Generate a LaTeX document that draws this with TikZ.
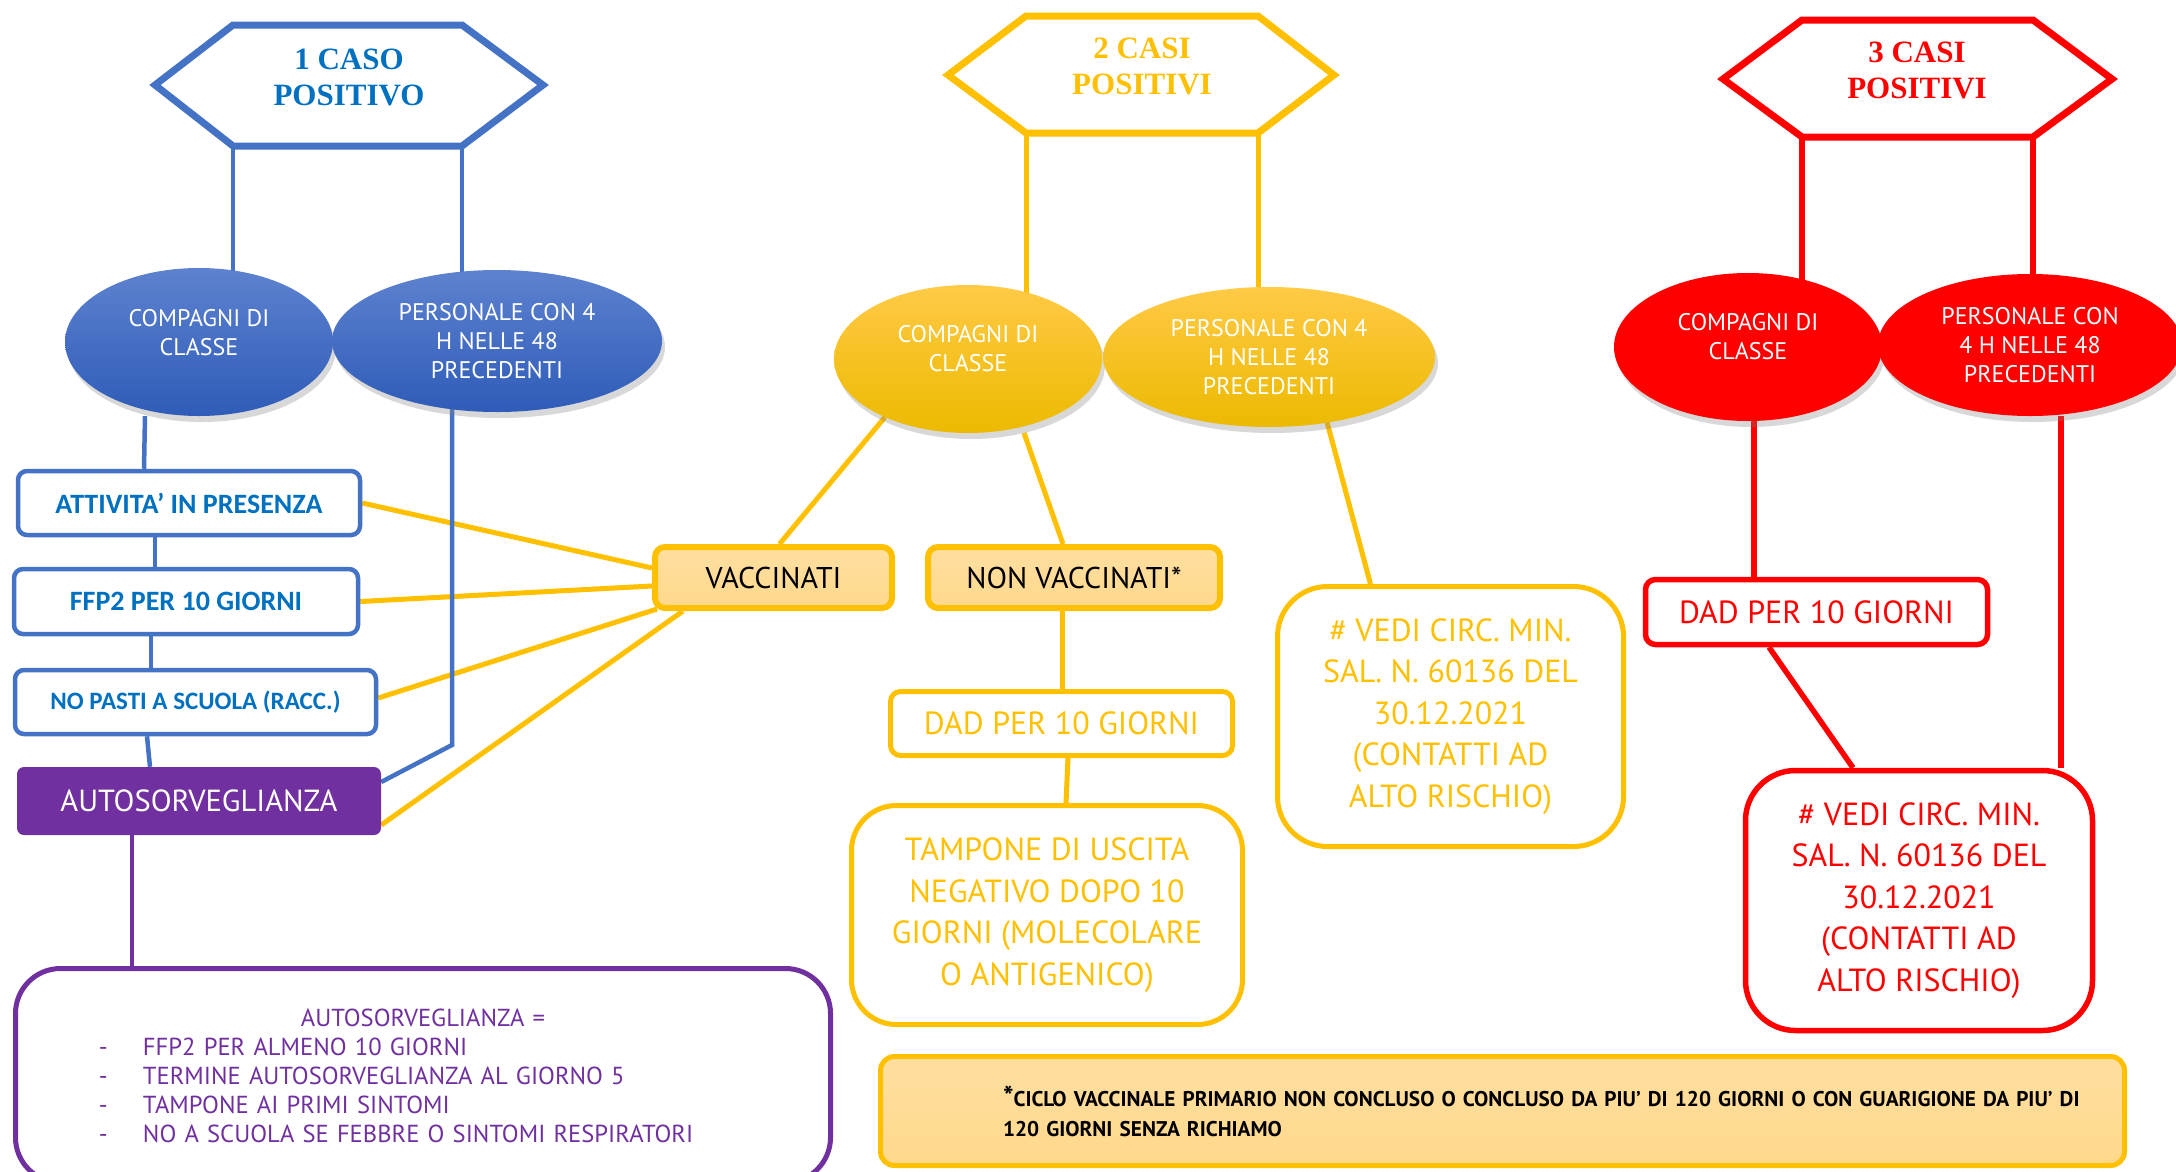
\documentclass[tikz,border=0pt]{standalone}
\usepackage{fontspec}
\setmainfont{PT Sans}
\newfontfamily\calfont{Carlito}
\newfontfamily\hexfont{Liberation Serif}
\usetikzlibrary{shapes.geometric,shadows,backgrounds,calc}
\pgfdeclarelayer{canvasbg}
\pgfsetlayers{canvasbg,background,main}
\definecolor{cblue}{HTML}{4472C4}
\definecolor{ctblue}{HTML}{0070C0}
\definecolor{cyel}{HTML}{FFC000}
\definecolor{cred}{HTML}{FF0000}
\definecolor{cpur}{HTML}{7030A0}
\definecolor{cpeach}{HTML}{FFD88C}
\definecolor{cpeachtop}{HTML}{FFDFA0}
\definecolor{eblt}{RGB}{93,130,207}
\definecolor{eblb}{RGB}{47,92,184}
\definecolor{eyet}{RGB}{255,202,70}
\definecolor{eyeb}{RGB}{236,186,0}
\tikzset{
  hexline/.style={line width=7pt, line join=miter, fill=white},
  hextext/.style={align=center, font=\hexfont\bfseries\fontsize{31}{36}\selectfont, inner sep=0pt},
  ell/.style={ellipse, inner sep=0pt, align=center, text=white, draw=none,
    drop shadow={opacity=0.3, shadow xshift=3pt, shadow yshift=-6pt}},
  elltxt/.style={font=\fontsize{24}{29}\selectfont},
  bluebox/.style={rectangle, draw=cblue, line width=4.5pt, rounded corners=9pt, fill=white,
    text=ctblue, font=\calfont\bfseries\fontsize{28}{30}\selectfont, inner sep=0pt},
  peachbox/.style={rectangle, draw=cyel, line width=6pt, rounded corners=10pt,
    top color=cpeachtop, bottom color=cpeach, text=black,
    font=\fontsize{30}{32}\selectfont, inner sep=0pt},
  yelbox/.style={rectangle, draw=cyel, line width=5pt, fill=white, text=cyel,
    font=\fontsize{32}{41.5}\selectfont, inner sep=0pt, align=center},
  redbox/.style={rectangle, draw=cred, line width=5.5pt, fill=white, text=cred,
    font=\fontsize{32}{41.5}\selectfont, inner sep=0pt, align=center},
  ylin/.style={draw=cyel, line width=5pt},
  blin/.style={draw=cblue, line width=4.5pt},
  rlin/.style={draw=cred, line width=5.5pt},
  plin/.style={draw=cpur, line width=4.5pt},
}
\begin{document}
\begin{tikzpicture}[x=1pt,y=-1pt]
\begin{pgfonlayer}{canvasbg}
\fill[white] (0,0) rectangle (2176,1171);
\end{pgfonlayer}
\useasboundingbox (0,0) rectangle (2176,1171);

% hexagons
\draw[hexline, draw=cblue] (155,85) -- (233,25) -- (462,25) -- (543,85) -- (462,146) -- (233,146) -- cycle;
\node[hextext, text=ctblue] (h1) at (349,77) {1 CASO\\POSITIVO};
\coordinate (h1l) at (233,146);
\coordinate (h1r) at (462,146);

\draw[hexline, draw=cyel] (948,75) -- (1026,16) -- (1258,16) -- (1334,75) -- (1258,133) -- (1026,133) -- cycle;
\node[hextext, text=cyel] (h2) at (1142,66) {2 CASI\\POSITIVI};
\coordinate (h2l) at (1026,133);
\coordinate (h2r) at (1258,133);

\draw[hexline, draw=cred] (1723,79) -- (1802,20) -- (2033,20) -- (2112,79) -- (2033,137) -- (1802,137) -- cycle;
\node[hextext, text=cred] (h3) at (1917,70) {3 CASI\\POSITIVI};
\coordinate (h3l) at (1802,137);
\coordinate (h3r) at (2033,137);

% ellipses
\node[ell, elltxt, top color=eblt, bottom color=eblb, minimum width=268pt, minimum height=148pt, text depth=20pt] (e1) at (199,342) {COMPAGNI DI\\CLASSE};
\node[ell, elltxt, top color=eblt, bottom color=eblb, minimum width=330pt, minimum height=142pt] (e2) at (497,341) {PERSONALE CON 4\\H NELLE 48\\PRECEDENTI};
\node[ell, elltxt, top color=eyet, bottom color=eyeb, minimum width=268pt, minimum height=148pt, text depth=22pt] (e3) at (968,359) {COMPAGNI DI\\CLASSE};
\node[ell, elltxt, top color=eyet, bottom color=eyeb, minimum width=332pt, minimum height=140pt] (e4) at (1269,357) {PERSONALE CON 4\\H NELLE 48\\PRECEDENTI};
\node[ell, elltxt, fill=cred, minimum width=268pt, minimum height=148pt, text depth=22pt] (e5) at (1748,347) {COMPAGNI DI\\CLASSE};
\node[ell, elltxt, fill=cred, minimum width=304pt, minimum height=142pt] (e6) at (2030,345) {PERSONALE CON\\4 H NELLE 48\\PRECEDENTI};

% blue column
\node[bluebox, minimum width=342pt, minimum height=64pt] (att) at (189,503) {ATTIVITA’ IN PRESENZA};
\node[bluebox, minimum width=344pt, minimum height=65pt] (ffp) at (186,601.5) {FFP2 PER 10 GIORNI};
\node[bluebox, minimum width=361pt, minimum height=64pt, font=\calfont\bfseries\fontsize{25}{27}\selectfont] (nop) at (195.5,702) {NO PASTI A SCUOLA (RACC.)};
\node[rectangle, fill=cpur, rounded corners=7pt, text=white, inner sep=0pt, minimum width=364pt, minimum height=68pt, font=\fontsize{30.5}{32}\selectfont] (aut) at (199,801) {AUTOSORVEGLIANZA};

% yellow column
\node[peachbox, minimum width=237pt, minimum height=61pt] (vac) at (773.5,577.5) {VACCINATI};
\node[peachbox, minimum width=292pt, minimum height=61pt] (nv) at (1074,577.5) {NON VACCINATI*};
\node[yelbox, rounded corners=10pt, minimum width=342pt, minimum height=64pt] (dy) at (1061.5,723.5) {DAD PER 10 GIORNI};
\node[yelbox, rounded corners=45pt, minimum width=391pt, minimum height=219pt] (tp) at (1047,915) {TAMPONE DI USCITA\\NEGATIVO DOPO 10\\GIORNI (MOLECOLARE\\O ANTIGENICO)};
\node[yelbox, rounded corners=50pt, minimum width=346pt, minimum height=260pt] (vy) at (1450.5,716.5) {\# VEDI CIRC. MIN.\\SAL. N. 60136 DEL\\30.12.2021\\(CONTATTI AD\\ALTO RISCHIO)};

% red column
\node[redbox, rounded corners=10pt, minimum width=342pt, minimum height=65pt] (dr) at (1816.5,612) {DAD PER 10 GIORNI};
\node[redbox, rounded corners=50pt, minimum width=347pt, minimum height=260pt] (vr) at (1919,900.5) {\# VEDI CIRC. MIN.\\SAL. N. 60136 DEL\\30.12.2021\\(CONTATTI AD\\ALTO RISCHIO)};

% bottom boxes
\node[rectangle, draw=cpur, line width=5pt, rounded corners=45pt, fill=white, text=cpur,
  minimum width=815pt, minimum height=214pt, inner xsep=10pt, inner ysep=0pt, text width=795pt, align=left,
  font=\fontsize{24.6}{29}\selectfont] (ab) at (423,1075.5)
  {\makebox[795pt][c]{AUTOSORVEGLIANZA =}\\
   \hspace*{73.5pt}\makebox[44pt][l]{-}FFP2 PER ALMENO 10 GIORNI\\
   \hspace*{73.5pt}\makebox[44pt][l]{-}TERMINE AUTOSORVEGLIANZA AL GIORNO 5\\
   \hspace*{73.5pt}\makebox[44pt][l]{-}TAMPONE AI PRIMI SINTOMI\\
   \hspace*{73.5pt}\makebox[44pt][l]{-}NO A SCUOLA SE FEBBRE O SINTOMI RESPIRATORI};

\node[rectangle, draw=cyel, line width=5pt, rounded corners=14pt, top color=cpeachtop, bottom color=cpeach,
  text=black, minimum width=1244pt, minimum height=109pt, inner sep=0pt, text width=1244pt, align=left,
  font=\bfseries\fontsize{21.3}{30}\selectfont] (fn) at (1502.5,1111)
  {\hspace*{122.5pt}{\fontsize{28}{28}\selectfont*}CICLO VACCINALE PRIMARIO NON CONCLUSO O CONCLUSO DA PIU’ DI 120 GIORNI O CON GUARIGIONE DA PIU’ DI\\
   \hspace*{122.5pt}120 GIORNI SENZA RICHIAMO};

% connectors
\begin{scope}[on background layer]
  % yellow
  \draw[ylin] (att.east) -- ([yshift=9.5pt]vac.west);
  \draw[ylin] (ffp.east) -- ([yshift=-8.5pt]vac.west);
  \draw[ylin] ([yshift=4pt]nop.east) -- ([xshift=5pt,yshift=2pt]vac.south west);
  \draw[ylin] ([yshift=-24pt]aut.east) -- ([xshift=31pt]vac.south west);
  \draw[ylin] (e3.215) -- ([xshift=6pt]vac.north);
  \draw[ylin] ($(e3.center)+(56,74)$) -- ([xshift=-11pt]nv.north);
  \draw[ylin] ($(e4.center)+(58,65)$) -- ([xshift=-80pt]vy.north);
  \draw[ylin] ([xshift=-12pt]nv.south) -- ([xshift=0.5pt]dy.north);
  \draw[ylin] ([xshift=6.5pt]dy.south) -- ([xshift=19pt]tp.north);
  \draw[ylin] (h2l) -- ($(e3.center)+(58,0)$);
  \draw[ylin] (h2r) -- ($(e4.center)+(-11,0)$);
  % blue
  \coordinate (bk) at (452,745);
  \draw[blin] (h1l) -- ($(e1.center)+(34,0)$);
  \draw[blin] (h1r) -- ($(e2.center)+(-35,0)$);
  \draw[blin] ([xshift=-54pt]e1.south) -- ([xshift=-45pt]att.north);
  \draw[blin] ([xshift=-34pt]att.south) -- ([xshift=-31pt]ffp.north);
  \draw[blin] ([xshift=-35pt]ffp.south) -- ([xshift=-44.5pt]nop.north);
  \draw[blin] ([xshift=-48.5pt]nop.south) -- ([xshift=-49pt]aut.north);
  \draw[blin, line join=miter] ($(e2.center)+(-45,0)$) -- (bk) -- ([yshift=19pt]aut.east);
  % purple
  \draw[plin] ([xshift=-67pt]aut.south) -- ([xshift=-291pt]ab.north);
  % red
  \draw[rlin] (h3l) -- ($(e5.center)+(54,0)$);
  \draw[rlin] (h3r) -- ($(e6.center)+(3,0)$);
  \draw[rlin] ([xshift=6pt]e5.south) -- ([xshift=-62.5pt]dr.north);
  \draw[rlin] ([xshift=-47.5pt]dr.south) -- ([xshift=-66pt]vr.north);
  \draw[rlin] ([xshift=31pt]e6.south) -- ([xshift=142pt]vr.north);
\end{scope}
\end{tikzpicture}
\end{document}
